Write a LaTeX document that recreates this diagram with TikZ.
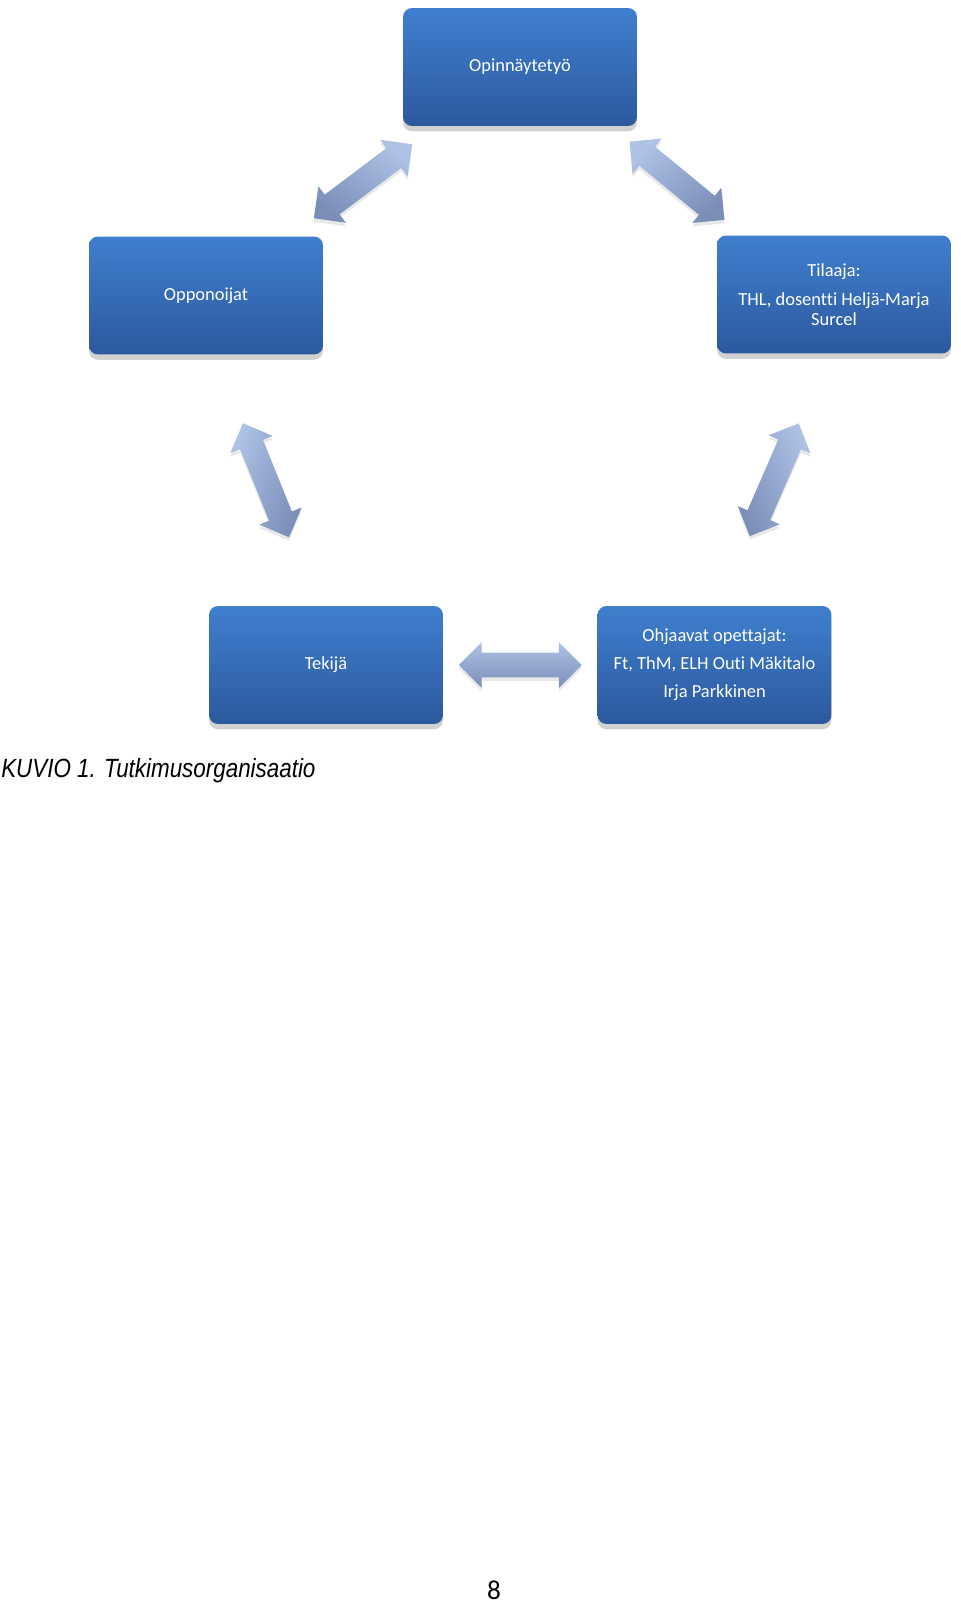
\documentclass[tikz,border=0pt]{standalone}
\usepackage{fontspec}
\setmainfont{Carlito}[Ligatures=NoCommon]
\newfontfamily\capfont{Liberation Sans}
\usetikzlibrary{positioning, calc, shapes.arrows, shadows}

\definecolor{boxtop}{RGB}{63,127,206}
\definecolor{boxbottom}{RGB}{44,89,158}
\definecolor{arrtop}{RGB}{174,194,230}
\definecolor{arrbottom}{RGB}{122,142,184}

\begin{document}
\begin{tikzpicture}[
            x=0.02cm, y=-0.02cm,
            box/.style={
                    rounded corners=0.18cm,
                    minimum width=4.68cm,
                    minimum height=2.36cm,
                    top color=boxtop,
                    bottom color=boxbottom,
                    text=white,
                    align=center,
                    font=\fontsize{10.5}{11.5}\selectfont,
                    drop shadow={shadow xshift=0pt, shadow yshift=-3pt,
                            opacity=0.3, fill=black!60}
                },
            bigarrow/.style={
                    double arrow,
                    minimum height=2.46cm,
                    inner xsep=0pt,
                    inner ysep=0.24cm,
                    double arrow head extend=0.21cm,
                    rotate=#1,
                    top color=arrtop,
                    bottom color=arrbottom,
                    shading angle=-#1,
                    drop shadow={shadow xshift=0pt, shadow yshift=-2pt,
                            opacity=0.15, fill=black!60}
                },
            bigarrow/.default=0
        ]

        \useasboundingbox (0,0) rectangle (960,1605);


        \node[box] (thesis) at (520,67)
        {Opinnäytetyö};


        \node[box] (opp) at (206,295.5)
        {Opponoijat};


        \node[box] (client) at (834,294.5)
        {Tilaaja:\\[5pt]THL, dosentti Heljä-Marja\\Surcel};


        \node[box] (maker) at (326,665)
        {Tekijä};


        \node[box] (tutors) at (714.5,665)
        {Ohjaavat opettajat:\\[4.5pt]Ft, ThM, ELH Outi Mäkitalo\\[4.5pt]Irja Parkkinen};


        \node[bigarrow=37] (a1)
        at ($(thesis.south west)!0.5!(opp.north east)$) {};
        \node[bigarrow=-39.5] (a2)
        at ($(thesis.south east)!0.5!(client.north west)$) {};
        \node[bigarrow=-68] (a3)
        at ($(opp.south)!0.5!(maker.north)$) {};
        \node[bigarrow=66.5] (a4)
        at ($(client.south)!0.5!(tutors.north)$) {};
        \node[bigarrow] (a5)
        at ($(maker.east)!0.5!(tutors.west)$) {};


        \node[anchor=base west, inner sep=0pt, xscale=0.85, font=\capfont\itshape\fontsize{15}{18}\selectfont] (caption) at (1,777)
        {KUVIO 1. Tutkimusorganisaatio};


        \node[anchor=base, inner sep=0pt, font=\fontsize{15.5}{18}\selectfont] (pagenum) at (494,1599.5)
        {8};


    \end{tikzpicture}
\end{document}
